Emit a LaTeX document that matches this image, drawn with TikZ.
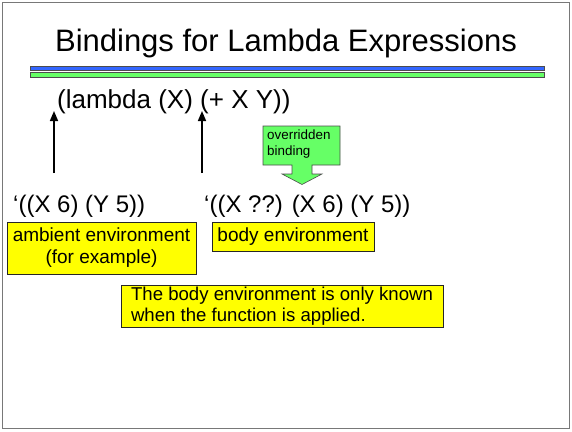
\documentclass[tikz,border=0pt]{standalone}
\usepackage{fontspec}
\setmainfont{Liberation Sans}
\usetikzlibrary{arrows.meta}
\definecolor{barblue}{RGB}{51,102,255}
\definecolor{bargreen}{RGB}{102,255,102}
\definecolor{noteyellow}{RGB}{255,255,0}
\definecolor{framegray}{RGB}{120,120,120}
\tikzset{
  code/.style={font=\fontsize{24}{28}\selectfont, inner sep=0pt, anchor=base west},
  note/.style={draw=black!85, line width=0.9pt, fill=noteyellow, inner sep=0pt,
    font=\fontsize{19}{22}\selectfont},
  ptr/.style={line width=1.6pt, -{Triangle[length=10pt,width=8pt]}},
}
\begin{document}
\begin{tikzpicture}[x=1pt,y=-1pt]
\useasboundingbox (0,0) rectangle (572,431);
% slide frame
\draw[framegray, line width=1.5pt] (2.5,2.5) rectangle (569.5,428.5);
% title and rule bars
\node[font=\fontsize{31}{36}\selectfont, anchor=base, inner sep=0pt] (title) at (286,51) {Bindings for Lambda Expressions};
\draw[fill=barblue, draw=black!70, line width=0.6pt] (30,66) rectangle (544,70.5);
\draw[fill=bargreen, draw=black!70, line width=0.6pt] (30,72.5) rectangle (544,77);
% the expression
\node[code, font=\fontsize{26}{30}\selectfont] (lam) at (57,108) {(lambda (X) (+ X Y))};
% environments
\node[code] (ambenv) at (13,212) {`((X 6) (Y 5))};
\node[code] (bodyenv) at (204,212) {`((X ??) (X 6) (Y 5))};
% pointers up to the expression
\coordinate (tail1) at (54,173);
\coordinate (tip1) at (54,111);
\coordinate (tail2) at (202,173);
\coordinate (tip2) at (202,111);
\draw[ptr] (tail1) -- (tip1);
\draw[ptr] (tail2) -- (tip2);
% labels
\node[note, minimum width=189pt, minimum height=52pt, align=center] (amblabel) at (101.5,248)
  {ambient environment\\(for example)};
\node[note, minimum width=162pt, minimum height=29pt] (bodylabel) at (293,236.5) {body environment};
\node[note, font=\fontsize{18.6}{21.5}\selectfont, minimum width=322pt, minimum height=42pt, align=left] (known) at (282,306)
  {The body environment is only known\\when the function is applied.};
% callout with a block arrow
\draw[fill=bargreen, draw=black!70, line width=0.6pt]
  (263,126) -- (340,126) -- (340,165) -- (312,165) -- (312,174) -- (322,174)
  -- (302,184.5) -- (282,174) -- (292,174) -- (292,165) -- (263,165) -- cycle;
\node[font=\fontsize{13.4}{15.5}\selectfont, align=left, anchor=north west, inner sep=0pt] (over) at (267,130)
  {overridden\\binding};
\end{tikzpicture}
\end{document}
